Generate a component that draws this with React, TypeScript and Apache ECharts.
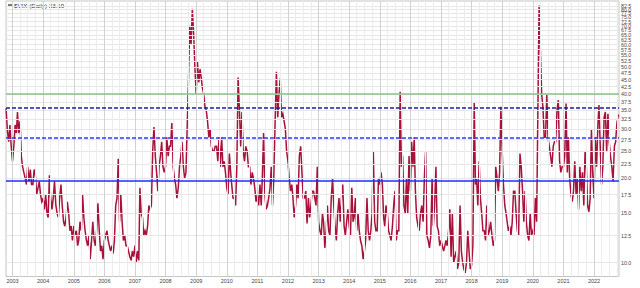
import React, { useEffect, useRef } from "react";
import * as echarts from "echarts";

// VIX closes, two readings per month (1st and 16th)
const v2002 = [35.5, 29.5, 27, 31, 26]; // from Oct 16
const v2003 = [23, 26, 31, 29, 34.5, 29, 32, 24, 22, 21, 20, 19, 22, 19.5, 21.5, 19, 19, 21.5, 20.5, 17.5, 18.5, 19.5, 17.5, 16.5];
const v2004 = [17, 15.5, 17.5, 15, 14.5, 20.5, 17, 15.5, 17, 19.5, 16, 15, 14.5, 17, 19, 16, 14, 13.5, 14.5, 16.5, 15, 13, 13.5, 12];
const v2005 = [13.5, 12.5, 13, 11.5, 12, 14, 13, 17.5, 14.5, 13, 12, 11.5, 12.5, 10.3, 12, 14, 12, 11.5, 13, 16.3, 13, 11, 11.5, 10.3];
const v2006 = [12, 12.5, 13, 12, 11.5, 11, 11.5, 10.8, 12, 16, 17, 23.5, 14, 17.5, 14, 12, 12.5, 11.5, 11.5, 11, 10.5, 10.2, 11, 10.5];
const v2007 = [11.5, 10, 11, 10.2, 18.5, 15, 14.5, 12.5, 13, 12.5, 13.5, 16, 15.5, 16, 25, 30.5, 24, 21, 18, 22, 24, 27, 22, 21];
const v2008 = [22, 28, 24, 26, 26, 31.5, 22, 20, 19, 17, 18.5, 22, 24, 27, 22, 20, 21, 31, 45, 70, 60, 80.5, 66, 50];
const v2009 = [40, 52, 44, 49, 46, 42, 40, 36, 35, 32, 28, 30, 26, 25, 25, 26, 26, 23, 28, 22, 28, 22, 23, 21];
const v2010 = [18.5, 17.5, 24.5, 21, 19, 17, 17, 16, 22, 45.8, 35, 26, 34.5, 25, 23, 26, 25, 22, 22, 19, 21, 20, 18.5, 16.5];
const v2011 = [17.5, 16, 19, 16, 20, 29, 17.5, 15.5, 16, 17, 18.5, 22, 16, 20, 32, 48, 33, 40, 45.5, 33, 34, 32, 30, 25];
const v2012 = [23, 20, 18, 19, 17, 14.5, 16, 19, 17, 24, 26, 21, 17, 17, 18, 13.8, 17, 14.5, 16, 18, 18, 17, 16, 22];
const v2013 = [14, 13, 12.5, 15, 14, 11.3, 13, 16, 13, 12.5, 17, 20, 16, 13.5, 12, 15, 17, 14, 17, 19, 13.5, 12.5, 14, 15.5];
const v2014 = [13.5, 12.5, 18.5, 14, 14.5, 17, 13, 15, 13, 12, 11.5, 10.3, 11, 12, 17, 13, 12, 13, 15, 25, 14, 13, 13, 20];
const v2015 = [19, 21, 19, 14.5, 13.5, 16, 15, 13, 12.5, 12, 13.5, 16, 18, 12, 13, 13, 40.7, 22, 24, 16, 15, 20, 15, 24];
const v2016 = [18, 27, 22, 28, 18, 14.5, 13.5, 13, 15, 16, 14, 20, 25, 12.5, 12, 11.3, 12.5, 20, 13.5, 16, 22, 13.5, 13, 11.5];
const v2017 = [12, 11.5, 11, 11.5, 12, 11.5, 13, 15.5, 10.5, 15, 10, 10.5, 11, 9.5, 10, 16, 11, 10, 9.5, 9.2, 10, 13, 11, 9.5];
const v2018 = [9.8, 11.5, 37.3, 19, 20, 16, 23, 17, 15, 13, 13, 12, 16, 12.5, 13, 14, 12.5, 11.5, 12, 22, 20, 18, 21, 36];
const v2019 = [25, 19, 16, 15, 14, 13, 13.5, 12.5, 14, 18, 18, 15, 13, 12.5, 24.5, 22, 18, 14, 18, 14, 12.5, 12, 15, 12.5];
const v2020 = [13, 12.5, 17, 14, 33, 82.7, 57, 40, 36, 28, 28, 40, 28, 26, 24, 22, 26, 27, 27, 35, 38, 23, 21, 22];
const v2021 = [22, 24, 37, 21, 28, 20, 17.5, 16.5, 18, 23, 17.5, 20, 15.5, 22, 18, 21, 16, 25, 22, 16, 15.2, 17, 30, 21];
const v2022 = [17, 28, 22, 31, 36.5, 26, 19, 22, 33, 34.5, 25, 34, 27, 24, 22, 19.5, 26, 27, 31.5, 33.5];
const lastClose = { year: 2022, month: 9, day: 24, value: 33.19 };

// [year, first half-month slot, values]
const yearBlocks: [number, number, number[]][] = [
  [2002, 19, v2002], [2003, 0, v2003], [2004, 0, v2004], [2005, 0, v2005], [2006, 0, v2006],
  [2007, 0, v2007], [2008, 0, v2008], [2009, 0, v2009], [2010, 0, v2010], [2011, 0, v2011],
  [2012, 0, v2012], [2013, 0, v2013], [2014, 0, v2014], [2015, 0, v2015], [2016, 0, v2016],
  [2017, 0, v2017], [2018, 0, v2018], [2019, 0, v2019], [2020, 0, v2020], [2021, 0, v2021],
  [2022, 0, v2022],
];

const yTicks = [10, 12.5, 15, 17.5, 20, 22.5, 25, 27.5, 30, 32.5, 35, 37.5, 40, 42.5, 45, 47.5, 50, 52.5, 55, 57.5, 60, 62.5, 65, 67.5, 70, 72.5, 75, 77.5, 80, 82.5];
const xYears = [2003, 2004, 2005, 2006, 2007, 2008, 2009, 2010, 2011, 2012, 2013, 2014, 2015, 2016, 2017, 2018, 2019, 2020, 2021, 2022];
const quarterMonths = [3, 6, 9];

const levelGreen = 40;
const levelNavyDashed = 35.8;
const levelBlueDashed = 27.8;
const levelBlueSolid = 19.65;

const FONT = "Liberation Sans, Arial, sans-serif";

function slotDate(y: number, s: number) {
  return new Date(y, Math.floor(s / 2), s % 2 ? 16 : 1).getTime();
}

export default function App() {
  const ref = useRef<HTMLDivElement>(null);
  useEffect(() => {
    if (!ref.current) return;
    const chart = echarts.init(ref.current, undefined, { renderer: "svg" });

    const data: [number, number][] = [];
    yearBlocks.forEach(([y, s0, vals]) => {
      vals.forEach((v, i) => data.push([slotDate(y, s0 + i), v]));
    });
    data.push([new Date(lastClose.year, lastClose.month, lastClose.day).getTime(), lastClose.value]);

    const quarterStamps: number[] = [];
    xYears.forEach((y) => quarterMonths.forEach((m) => quarterStamps.push(new Date(y, m, 1).getTime())));

    const gridLines: any[] = [
      ...yTicks.map((v) => ({
        yAxis: v,
        lineStyle: { color: "#e6e6e6", width: 1, type: "solid" },
        label: {
          show: true,
          position: "end",
          distance: 2,
          formatter: v.toFixed(1),
          fontSize: 5.3,
          color: "#444",
          fontFamily: FONT,
        },
      })),
      ...quarterStamps.map((t) => ({
        xAxis: t,
        lineStyle: { color: "#ececec", width: 1, type: "solid" },
        label: { show: false },
      })),
      ...xYears.map((y) => ({
        xAxis: new Date(y, 0, 1).getTime(),
        lineStyle: { color: "#d2d2d2", width: 1, type: "solid" },
        label: {
          show: true,
          position: "start",
          distance: 1.5,
          formatter: String(y),
          fontSize: 5.5,
          color: "#444",
          fontFamily: FONT,
        },
      })),
    ];

    const levelLine = (v: number, color: string, type: any, width: number) => ({
      yAxis: v,
      lineStyle: { color, width, type },
      label: { show: false },
    });

    chart.setOption({
      animation: false,
      grid: {
        left: 6,
        right: 21,
        top: 1,
        bottom: 11.5,
        show: true,
        borderColor: "#c4c4c4",
        borderWidth: 1,
        backgroundColor: "#fff",
      },
      xAxis: {
        type: "time",
        min: new Date(2002, 9, 15).getTime(),
        max: new Date(2022, 9, 26).getTime(),
        axisLine: { show: false },
        axisTick: { show: false },
        splitLine: { show: false },
        axisLabel: { show: false },
      },
      yAxis: {
        type: "log",
        min: 8.93,
        max: 85.8,
        position: "right",
        axisLine: { show: false },
        axisTick: { show: false },
        axisLabel: { show: false },
        splitLine: { show: false },
      },
      graphic: [
        {
          type: "line",
          shape: { x1: 8, y1: 5, x2: 12.5, y2: 5 },
          style: { stroke: "#222", lineWidth: 1.2 },
        },
        {
          type: "text",
          x: 14,
          y: 5,
          style: {
            text: `$VIX (Daily) ${lastClose.value.toFixed(2)}`,
            fontSize: 6.2,
            fill: "#333",
            fontFamily: FONT,
            verticalAlign: "middle",
          },
        },
      ],
      series: [
        {
          type: "line",
          name: "grid",
          data: [],
          z: 1,
          silent: true,
          markLine: {
            silent: true,
            symbol: ["none", "none"],
            emphasis: { disabled: true },
            data: gridLines,
          },
        },
        {
          type: "line",
          name: "$VIX",
          data,
          z: 2,
          symbol: "none",
          showSymbol: false,
          silent: true,
          lineStyle: { color: "#a8123a", width: 1.5, join: "miter" },
        },
        {
          type: "line",
          name: "levels",
          data: [],
          z: 3,
          silent: true,
          markLine: {
            silent: true,
            symbol: ["none", "none"],
            emphasis: { disabled: true },
            data: [
              levelLine(levelGreen, "#8fbf8f", "solid", 1.5),
              levelLine(levelNavyDashed, "#1e1ea0", [4, 2], 1.5),
              levelLine(levelBlueDashed, "#2a3cff", [4, 2], 1.5),
              levelLine(levelBlueSolid, "#1c2eff", "solid", 1.6),
            ],
          },
        },
      ],
    });
    return () => chart.dispose();
  }, []);
  return (
    <div
      ref={ref}
      style={{ position: "absolute", left: 0, top: 0, width: 640, height: 288 }}
    />
  );
}
